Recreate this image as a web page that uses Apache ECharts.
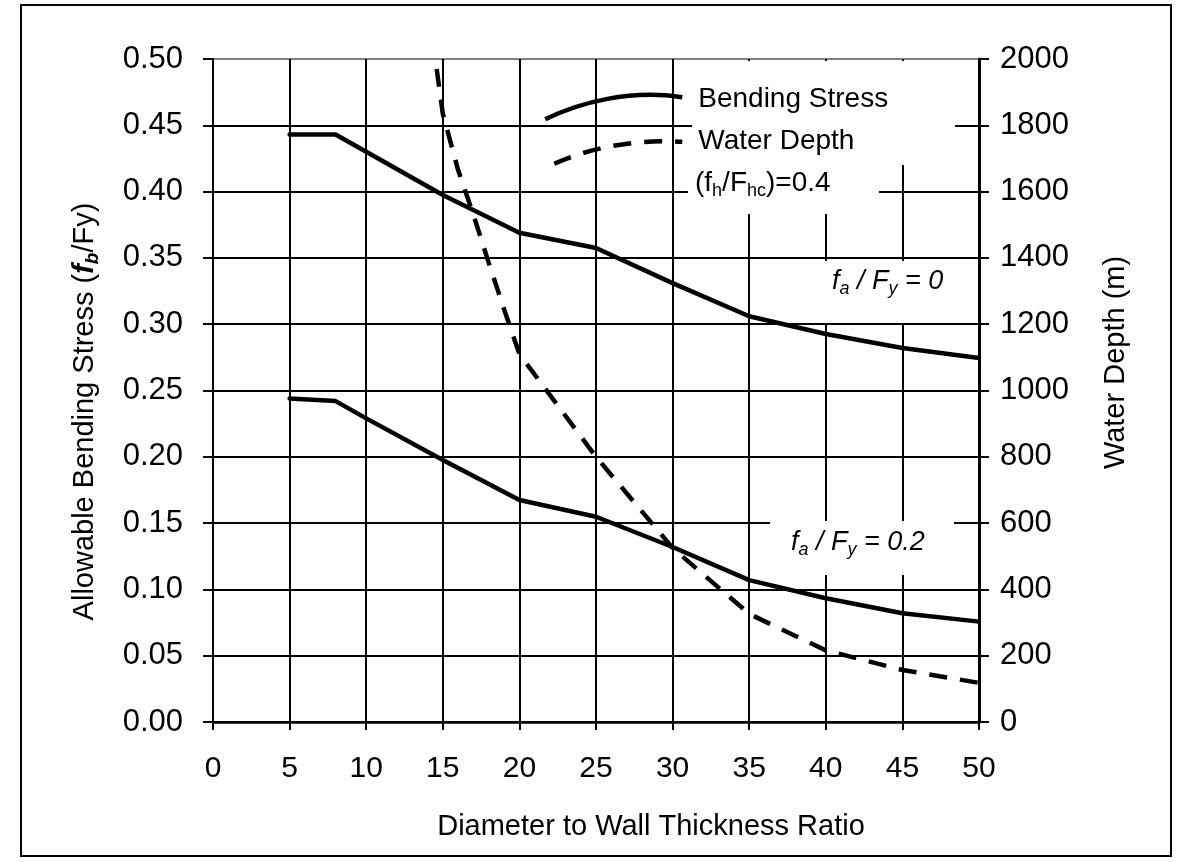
<!DOCTYPE html>
<html>
<head>
<meta charset="utf-8">
<script src="https://cdn.jsdelivr.net/npm/echarts@6/dist/echarts.min.js"></script>
<style>
html,body{margin:0;padding:0;background:#fff;}
#chart{width:1178px;height:862px;}
</style>
</head>
<body>
<div id="chart"></div>
<script>
// ---- data ----
const dtRatio = [5, 8, 10, 15, 20, 25, 30, 35, 40, 45, 50];
const bendingFa0 = [0.443, 0.443, 0.430, 0.3975, 0.369, 0.3575, 0.331, 0.306, 0.2926, 0.282, 0.2745];
const bendingFa02 = [0.244, 0.242, 0.229, 0.1976, 0.1674, 0.1548, 0.132, 0.107, 0.0933, 0.082, 0.0757];
const depthRatio = [14.6, 15, 16, 17, 18, 19, 20, 25, 30, 35, 40, 45, 50];
const waterDepth = [1970, 1835, 1665, 1530, 1385, 1245, 1110, 800, 525, 326, 216, 157, 118];
const xTicks = [0, 5, 10, 15, 20, 25, 30, 35, 40, 45, 50];
const legendNames = ['Bending Stress', 'Water Depth'];

const FONT = "'Liberation Sans', Arial, Helvetica, sans-serif";
const pairs = (xs, ys) => xs.map((x, i) => [x, ys[i]]);

const yGridColors = [];
for (let i = 0; i < 11; i++) yGridColors.push(i === 10 ? '#808080' : '#000');

const chart = echarts.init(document.getElementById('chart'), null, {renderer: 'canvas'});

const subRich = {
  base: {fontSize: 28, lineHeight: 34, fontFamily: FONT, color: '#000'},
  it: {fontSize: 27, lineHeight: 34, fontFamily: FONT, fontStyle: 'italic', color: '#000'},
  itsub: {fontSize: 18, lineHeight: 20, verticalAlign: 'bottom', fontFamily: FONT, fontStyle: 'italic', color: '#000'},
  sub: {fontSize: 18, lineHeight: 20, verticalAlign: 'bottom', fontFamily: FONT, color: '#000'}
};

const option = {
  backgroundColor: '#fff',
  animation: false,
  grid: {left: 213, right: 199, top: 59, bottom: 140, containLabel: false},
  legend: {
    orient: 'vertical',
    left: 543,
    top: 75,
    padding: 0,
    itemWidth: 148,
    itemHeight: 44,
    itemGap: -6,
    selectedMode: false,
    textStyle: {fontSize: 28, fontFamily: FONT, color: '#000'},
    data: [
      {
        name: legendNames[0],
        icon: 'path://M0 0M148 44M0 42C35 25 85 12 137 20',
        itemStyle: {color: 'rgba(0,0,0,0)', borderColor: '#000', borderWidth: 4.5, borderType: 'solid'}
      },
      {
        name: legendNames[1],
        icon: 'path://M0 0M148 44M9 44C40 30 85 19 137 22',
        itemStyle: {color: 'rgba(0,0,0,0)', borderColor: '#000', borderWidth: 4.5, borderType: [18, 13]}
      }
    ]
  },
  xAxis: {
    type: 'value',
    min: xTicks[0],
    max: xTicks[xTicks.length - 1],
    interval: 5,
    name: 'Diameter to Wall Thickness Ratio',
    nameLocation: 'middle',
    nameGap: 90,
    nameTextStyle: {fontSize: 29, fontFamily: FONT, color: '#000', padding: [0, 0, 0, 110]},
    axisLine: {show: true, onZero: false, lineStyle: {color: '#000', width: 2.5}},
    axisTick: {show: true, length: 8, lineStyle: {color: '#000', width: 2}},
    axisLabel: {fontSize: 30, fontFamily: FONT, color: '#000', margin: 32},
    splitLine: {show: true, lineStyle: {color: '#000', width: 2}}
  },
  yAxis: [
    {
      type: 'value',
      min: 0,
      max: 0.5,
      interval: 0.05,
      position: 'left',
      name: 'Allowable Bending Stress ({bi|f}{bisub|b}/Fy)',
      nameLocation: 'middle',
      nameRotate: 90,
      nameGap: 111,
      nameTextStyle: {
        fontSize: 29, fontFamily: FONT, color: '#000', padding: [0, 42, 0, 0],
        rich: {
          bi: {fontSize: 29, lineHeight: 34, fontFamily: FONT, fontStyle: 'italic', fontWeight: 'bold', color: '#000'},
          bisub: {fontSize: 19, lineHeight: 20, verticalAlign: 'bottom', fontFamily: FONT, fontStyle: 'italic', fontWeight: 'bold', color: '#000'}
        }
      },
      axisLine: {show: true, lineStyle: {color: '#000', width: 2}},
      axisTick: {show: true, length: 10, lineStyle: {color: '#000', width: 2}},
      axisLabel: {fontSize: 31, fontFamily: FONT, color: '#000', margin: 30, formatter: v => v.toFixed(2)},
      splitLine: {show: true, lineStyle: {color: yGridColors, width: 2}}
    },
    {
      type: 'value',
      min: 0,
      max: 2000,
      interval: 200,
      position: 'right',
      name: 'Water Depth (m)',
      nameLocation: 'middle',
      nameRotate: 90,
      nameGap: 122,
      nameTextStyle: {fontSize: 29, fontFamily: FONT, color: '#000', padding: [0, 0, 0, 56]},
      axisLine: {show: true, lineStyle: {color: '#000', width: 3}},
      axisTick: {show: true, length: 10, lineStyle: {color: '#000', width: 2}},
      axisLabel: {fontSize: 31, fontFamily: FONT, color: '#000', margin: 21, formatter: v => String(Math.round(v))},
      splitLine: {show: false}
    }
  ],
  series: [
    {
      name: legendNames[0],
      type: 'line',
      data: pairs(dtRatio, bendingFa0),
      showSymbol: false,
      symbol: 'none',
      lineStyle: {color: '#000', width: 4.5, cap: 'round', join: 'round'},
      itemStyle: {color: '#000'},
      z: 3
    },
    {
      name: legendNames[0],
      type: 'line',
      data: pairs(dtRatio, bendingFa02),
      showSymbol: false,
      symbol: 'none',
      lineStyle: {color: '#000', width: 4.5, cap: 'round', join: 'round'},
      itemStyle: {color: '#000'},
      z: 3
    },
    {
      name: legendNames[1],
      type: 'line',
      yAxisIndex: 1,
      data: pairs(depthRatio, waterDepth),
      showSymbol: false,
      symbol: 'none',
      lineStyle: {color: '#000', width: 4.5, type: [18, 13]},
      itemStyle: {color: '#000'},
      z: 3
    }
  ],
  graphic: [
    // outer frame
    {type: 'rect', z: 10, silent: true, shape: {x: 21, y: 5, width: 1150, height: 851},
     style: {fill: 'none', stroke: '#000', lineWidth: 2}},
    // white boxes behind legend and annotations
    {type: 'rect', z: 1, silent: true, shape: {x: 692, y: 61, width: 263, height: 104}, style: {fill: '#fff'}},
    {type: 'rect', z: 1, silent: true, shape: {x: 688, y: 164, width: 191, height: 50}, style: {fill: '#fff'}},
    {type: 'rect', z: 1, silent: true, shape: {x: 775, y: 261, width: 197, height: 62}, style: {fill: '#fff'}},
    {type: 'rect', z: 1, silent: true, shape: {x: 770, y: 521, width: 184, height: 54}, style: {fill: '#fff'}},
    // legend note
    {type: 'text', z: 10, silent: true, left: 695, top: 166,
     style: {text: '(f{sub|h}/F{sub|hc})=0.4', fontSize: 28, lineHeight: 34, fontFamily: FONT, fill: '#000', rich: subRich}},
    // curve annotations
    {type: 'text', z: 10, silent: true, left: 832, top: 264,
     style: {text: '{it|f}{itsub|a}{it| / F}{itsub|y}{it| = 0}', fontSize: 27, lineHeight: 34, fontFamily: FONT, fill: '#000', rich: subRich}},
    {type: 'text', z: 10, silent: true, left: 791, top: 525,
     style: {text: '{it|f}{itsub|a}{it| / F}{itsub|y}{it| = 0.2}', fontSize: 27, lineHeight: 34, fontFamily: FONT, fill: '#000', rich: subRich}}
  ]
};

chart.setOption(option);
</script>
</body>
</html>
